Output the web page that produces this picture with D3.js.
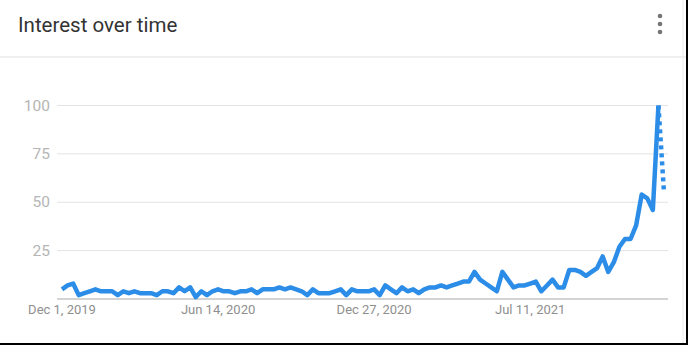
<!DOCTYPE html>
<html lang="en">
<head>
<meta charset="utf-8">
<title>Interest over time</title>
<script src="https://d3js.org/d3.v7.min.js"></script>
<style>
  body { margin:0; background:#fff; }
  svg { display:block; font-family: Roboto, "Noto Sans", sans-serif; }
  .grid line { stroke:#e3e3e3; stroke-width:1; }
  .ylab { fill:#b5b5b5; font-size:15.5px; text-anchor:end; }
  .xlab { fill:#8f8f8f; font-size:13px; text-anchor:middle; }
</style>
</head>
<body>
<div id="chart"></div>
<script>
// weekly values, first week Dec 1, 2019 (last week is partial)
var startDate = new Date(2019, 11, 1);
var values = [5,7,8,2,3,4,5,4,4,4,
              2,4,3,4,3,3,3,2,4,4,
              3,6,4,6,1,4,2,4,5,4,
              4,3,4,4,5,3,5,5,5,6,
              5,6,5,4,2,5,3,3,3,4,
              5,2,5,4,4,4,5,2,7,5,
              3,6,4,5,3,5,6,6,7,6,
              7,8,9,9,14,10,8,6,4,14,
              10,6,7,7,8,9,4,7,10,6,
              6,15,15,14,12,14,16,22,14,19,
              27,31,31,38,54,52,46,100,55];
var yTicks = [25, 50, 75, 100];
var xTickLabels = ["Dec 1, 2019", "Jun 14, 2020", "Dec 27, 2020", "Jul 11, 2021"];
var xTickDates = [new Date(2019, 11, 1), new Date(2020, 5, 14), new Date(2020, 11, 27), new Date(2021, 6, 11)];

var w = 688, h = 345;
var data = values.map(function(v, i) {
  return { date: d3.timeWeek.offset(startDate, i), value: v };
});

var x = d3.scaleTime()
  .domain([startDate, data[data.length - 1].date])
  .range([62, 664]);
var y = d3.scaleLinear().domain([0, 100]).range([299, 105.5]);

var svg = d3.select("#chart").append("svg")
  .attr("width", w).attr("height", h);

// header
svg.append("text")
  .attr("x", 18).attr("y", 32)
  .attr("fill", "#333")
  .style("font-size", "20.5px")
  .text("Interest over time");

[16, 24, 32].forEach(function(cy) {
  svg.append("circle").attr("cx", 660).attr("cy", cy).attr("r", 2.3).attr("fill", "#757575");
});

svg.append("line")
  .attr("x1", 0).attr("x2", 686).attr("y1", 57).attr("y2", 57)
  .attr("stroke", "#e0e0e0");

// grid + y labels
var grid = svg.append("g").attr("class", "grid");
grid.selectAll("line").data(yTicks).enter().append("line")
  .attr("x1", 57).attr("x2", 668)
  .attr("y1", function(d) { return y(d); })
  .attr("y2", function(d) { return y(d); });

svg.selectAll(".ylab").data(yTicks).enter().append("text")
  .attr("class", "ylab")
  .attr("x", 50)
  .attr("y", function(d) { return y(d) + 5; })
  .text(function(d) { return d; });

// baseline
svg.append("line")
  .attr("x1", 57).attr("x2", 668).attr("y1", y(0)).attr("y2", y(0))
  .attr("stroke", "#a8a8a8").attr("stroke-width", 1);

// x labels
svg.selectAll(".xlab").data(xTickDates).enter().append("text")
  .attr("class", "xlab")
  .attr("x", function(d) { return x(d); })
  .attr("y", 314)
  .text(function(d, i) { return xTickLabels[i]; });

var line = d3.line()
  .x(function(d) { return x(d.date); })
  .y(function(d) { return y(d.value); });

var blue = "#2c8de8";
svg.append("path")
  .datum(data.slice(0, data.length - 1))
  .attr("d", line)
  .attr("fill", "none")
  .attr("stroke", blue)
  .attr("stroke-width", 4.5)
  .attr("stroke-linejoin", "round");

// partial last week, dotted
svg.append("path")
  .datum(data.slice(data.length - 2))
  .attr("d", line)
  .attr("fill", "none")
  .attr("stroke", blue)
  .attr("stroke-width", 4.5)
  .attr("stroke-dasharray", "4,4");

// card edges
svg.append("line").attr("x1", 683).attr("x2", 683).attr("y1", 0).attr("y2", 343)
  .attr("stroke", "#ececec");
svg.append("rect").attr("x", 686).attr("y", 0).attr("width", 2).attr("height", h).attr("fill", "#000");
svg.append("rect").attr("x", 0).attr("y", 343).attr("width", w).attr("height", 2).attr("fill", "#000");
</script>
</body>
</html>
